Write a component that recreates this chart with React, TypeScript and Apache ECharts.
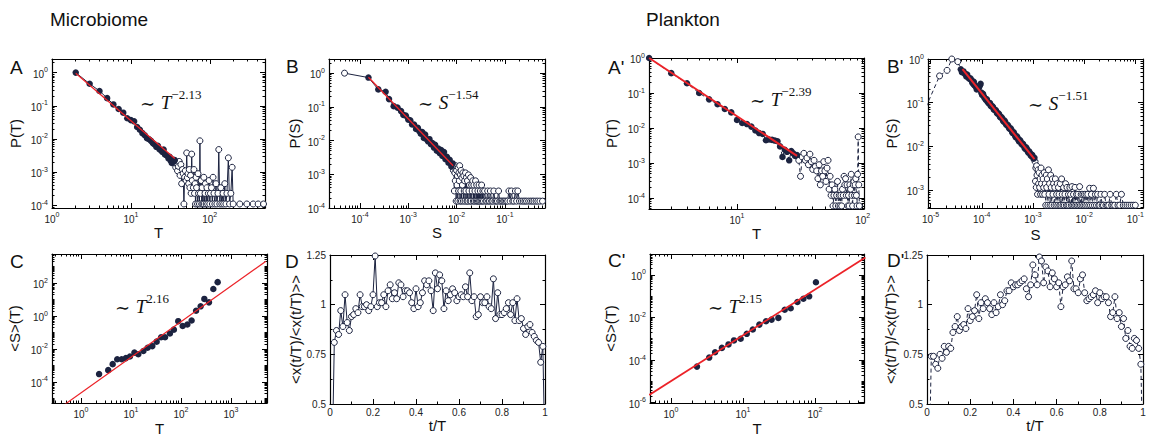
import React, { useEffect, useRef } from 'react';
import * as echarts from 'echarts';

const NAVY = '#1c2340';
const RED = '#ec2228';
const FONT = '"Liberation Sans", Arial, Helvetica, sans-serif';
const SERIF = '"Liberation Serif", "Times New Roman", serif';

// ---------- Panel A (Microbiome, P(T)) ----------
const aFilledT = [2,3,4,5,6,7,8,9,10,11,12,13,14,15,16,17,18,19,20,21,22,23,24,25,26,27,28,29,30,31,32,33,34,35,36];
const aFilledP = [1.0,0.46,0.28,0.17,0.11,0.08,0.062,0.042,0.037,0.034,0.023,0.019,0.015,0.013,0.0105,0.0098,0.0088,0.0075,0.0068,0.0058,0.0062,0.0049,0.0046,0.0041,0.0048,0.0034,0.0033,0.0031,0.0026,0.0029,0.0022,0.0019,0.0024,0.0021,0.0023];
const aOpenT = [37,38,39,40,41,42,43,44,45,46,47,48,49,50,51,52,53,54,55,56,57,58,59,60,62,63,64,65,66,67,68,70,71,72,74,75,76,78,79,80,82,84,85,87,88,90,92,94,96,98,100,102,105,108,110,113,116,120,123,127,130,134,138,142,147,150,155,160,165,172,178,185,192,198,240,295,355,410,480];
const aOpenP = [0.0014,0.0018,0.0011,0.0015,0.0021,0.0008,0.0017,0.00045,0.0012,0.0009,0.00011,0.0007,0.0011,0.00056,0.0038,0.00068,0.0009,0.00045,0.0012,0.00034,0.0008,0.00023,0.0035,0.00056,0.00034,0.0012,0.00023,0.00045,0.00011,0.0007,0.00034,0.00011,0.0009,0.00023,0.00011,0.0088,0.00023,0.00056,0.00011,0.00034,0.00011,0.0007,0.00011,0.00023,0.00045,0.00011,0.00034,0.00011,0.00023,0.00056,0.00011,0.00023,0.00034,0.00011,0.0007,0.00023,0.00011,0.00045,0.00011,0.00023,0.0048,0.00011,0.00034,0.00011,0.00023,0.00011,0.00045,0.00011,0.00023,0.0027,0.00011,0.00023,0.0014,0.00011,0.00011,0.00011,0.00011,0.00011,0.00011];
const aFitT = [2, 36];
const aFitP = [0.95, 0.0026];

// ---------- Panel B (Microbiome, P(S)) ----------
const bHeadS = [4.8e-5];
const bHeadP = [1.0];
const bFilledS = [1.5e-4,2.4e-4,3.4e-4,4.0e-4,5.0e-4,6.0e-4,7.1e-4,7.9e-4,8.9e-4,1.0e-3,1.1e-3,1.2e-3,1.32e-3,1.45e-3,1.58e-3,1.7e-3,1.82e-3,1.95e-3,2.1e-3,2.24e-3,2.4e-3,2.57e-3,2.75e-3,2.95e-3,3.16e-3,3.4e-3,3.6e-3,3.9e-3,4.2e-3,4.5e-3,4.8e-3,5.1e-3,5.5e-3,5.9e-3,6.3e-3,6.8e-3,7.2e-3,7.8e-3,8.3e-3];
const bFilledP = [0.74,0.33,0.28,0.17,0.105,0.095,0.075,0.058,0.055,0.042,0.04,0.03,0.03,0.022,0.024,0.019,0.016,0.018,0.012,0.015,0.011,0.0095,0.011,0.0078,0.0085,0.0062,0.0075,0.005,0.0058,0.0042,0.0052,0.0035,0.0046,0.0028,0.0033,0.0022,0.0027,0.0017,0.0021];
// [S, P] pairs of the open-circle tail
const bTail = [[0.0086,0.0013],[0.0088,0.0016],[0.009,0.00032],[0.0092,0.0011],[0.0094,0.00064],[0.0096,0.0018],[0.0098,0.00016],[0.0100,0.0013],[0.0102,0.00048],[0.0104,0.0009],[0.0106,0.00016],[0.0108,0.0016],[0.011,0.00032],[0.0112,0.0011],[0.0114,0.00064],[0.0116,0.0018],[0.0118,0.00016],[0.012,0.00096],[0.0122,0.00032],[0.0124,0.0013],[0.0126,0.00016],[0.0129,0.0008],[0.0132,0.00048],[0.0135,0.0011],[0.0138,0.00016],[0.0141,0.0009],[0.0144,0.00032],[0.0147,0.00064],[0.015,0.00016],[0.0153,0.0011],[0.0156,0.00032],[0.016,0.0008],[0.0164,0.00016],[0.0168,0.00064],[0.0172,0.00016],[0.0176,0.00096],[0.018,0.00032],[0.0185,0.00048],[0.019,0.00016],[0.0195,0.0008],[0.02,0.00016],[0.0205,0.00048],[0.021,0.00032],[0.0216,0.00064],[0.0222,0.00016],[0.0228,0.00048],[0.0234,0.00016],[0.024,0.00032],[0.0247,0.00064],[0.0254,0.00016],[0.0261,0.00048],[0.0268,0.00016],[0.0276,0.00032],[0.0284,0.00016],[0.0292,0.00048],[0.03,0.00016],[0.031,0.00032],[0.032,0.00016],[0.033,0.00048],[0.034,0.00016],[0.035,0.00032],[0.036,0.00016],[0.038,0.00032],[0.04,0.00016],[0.042,0.00016],[0.044,0.00032],[0.046,0.00016],[0.048,0.00016],[0.05,0.00032],[0.053,0.00016],[0.056,0.00016],[0.059,0.00032],[0.062,0.00016],[0.066,0.00016],[0.07,0.00016],[0.074,0.00032],[0.078,0.00016],[0.083,0.00016],[0.088,0.00016],[0.094,0.00016],[0.1,0.00016],[0.107,0.00016],[0.114,0.00016],[0.121,0.00032],[0.128,0.00016],[0.136,0.00032],[0.145,0.00016],[0.155,0.00016],[0.165,0.00032],[0.175,0.00016],[0.185,0.00032],[0.2,0.00016],[0.22,0.00016],[0.24,0.00016],[0.26,0.00016],[0.28,0.00016],[0.31,0.00016],[0.34,0.00016],[0.37,0.00016],[0.4,0.00016],[0.44,0.00016],[0.48,0.00016],[0.53,0.00016],[0.6,0.00016]];
const bFitS = [1.5e-4, 8.5e-3];
const bFitP = [0.76, 0.0018];

// ---------- Panel A' (Plankton, P(T)) ----------
const apFilledT = [2,3,4,5,6,7,8,9,10,11,12,13,14,15,16,17,18,19,20,21,22,23,24,25,26,27,28,29,30];
const apFilledP = [1.0,0.37,0.19,0.10,0.066,0.048,0.035,0.028,0.017,0.014,0.013,0.011,0.0085,0.0072,0.0068,0.0045,0.0047,0.0046,0.0044,0.0042,0.0030,0.0015,0.0024,0.0021,0.0012,0.0022,0.0019,0.0016,0.0017];
const apOpenT = [31,32,33,34,35,36,37,38,39,40,41,42,43,44,45,46,47,48,49,50,51,52,53,54,55,56,57,58,59,60,61,62,63,64,65,66,67,68,69,70,71,72,73,74,75,76,77,78,79,80,81,82,83,84,85,86,87,88,89,90,91,92,93,94];
const apOpenP = [0.0012,0.00042,0.0015,0.0019,0.0012,0.0014,0.0009,0.0018,0.0011,0.00066,0.0012,0.0008,0.0006,0.00036,0.0009,0.00024,0.0006,0.00042,0.0011,0.0006,0.0003,0.00072,0.0012,0.00018,0.00042,0.00012,0.00024,0.00006,0.00012,0.00018,0.00006,0.00012,0.0003,0.00006,0.00012,0.00006,0.00012,0.00006,0.00018,0.00012,0.00042,0.00024,0.00036,0.00012,0.00024,0.00006,0.00012,0.00006,0.00024,0.00018,0.00048,0.00012,0.00006,0.00024,0.0003,0.00012,0.00024,0.00036,0.00012,0.00006,0.00048,0.0056,0.00024,0.00006];
const apFitT = [2, 30];
const apFitP = [1.0, 0.0016];

// ---------- Panel B' (Plankton, P(S)) ----------
const bpHeadS = [6.3e-6,1.5e-5,2.1e-5,2.6e-5,3.4e-5];
const bpHeadP = [0.04,0.41,0.55,1.0,0.87];
// [S, P] pairs of the filled part
const bpFilled = [[3.9e-5,0.58],[4.1e-5,0.5],[4.4e-5,0.52],[4.6e-5,0.47],[4.8e-5,0.45],[5.0e-5,0.4],[5.2e-5,0.44],[5.5e-5,0.37],[5.8e-5,0.35],[6.0e-5,0.36],[6.3e-5,0.33],[6.5e-5,0.29],[6.8e-5,0.27],[7.0e-5,0.3],[7.2e-5,0.25],[7.5e-5,0.24],[7.8e-5,0.23],[8.0e-5,0.2],[8.3e-5,0.21],[8.6e-5,0.22],[8.9e-5,0.23],[9.2e-5,0.25],[9.5e-5,0.27],[9.8e-5,0.17],[1.02e-4,0.15],[1.06e-4,0.16],[1.1e-4,0.14],[1.13e-4,0.13],[1.17e-4,0.125],[1.21e-4,0.115],[1.26e-4,0.12],[1.3e-4,0.105],[1.35e-4,0.10],[1.4e-4,0.095],[1.45e-4,0.098],[1.5e-4,0.085],[1.55e-4,0.082],[1.6e-4,0.084],[1.66e-4,0.079],[1.72e-4,0.07],[1.78e-4,0.068],[1.84e-4,0.069],[1.9e-4,0.066],[1.97e-4,0.059],[2.04e-4,0.056],[2.11e-4,0.057],[2.19e-4,0.054],[2.26e-4,0.048],[2.34e-4,0.046],[2.42e-4,0.047],[2.51e-4,0.044],[2.6e-4,0.039],[2.69e-4,0.037],[2.78e-4,0.039],[2.88e-4,0.036],[2.98e-4,0.032],[3.09e-4,0.031],[3.2e-4,0.031],[3.31e-4,0.029],[3.43e-4,0.026],[3.55e-4,0.025],[3.67e-4,0.026],[3.8e-4,0.024],[3.93e-4,0.021],[4.07e-4,0.020],[4.22e-4,0.021],[4.37e-4,0.019],[4.52e-4,0.017],[4.68e-4,0.016],[4.85e-4,0.017],[5.01e-4,0.016],[5.19e-4,0.014],[5.37e-4,0.013],[5.56e-4,0.014],[5.75e-4,0.013],[5.96e-4,0.0115],[6.17e-4,0.011],[6.39e-4,0.0115],[6.61e-4,0.0105],[6.84e-4,0.0093],[7.08e-4,0.0088],[7.33e-4,0.0095],[7.59e-4,0.0089],[7.85e-4,0.0078],[8.13e-4,0.0072],[8.42e-4,0.0077],[8.71e-4,0.0071],[9.02e-4,0.0063],[9.33e-4,0.006],[9.66e-4,0.0064],[1.0e-3,0.0058],[1.03e-3,0.0052],[1.07e-3,0.0055]];
// [S, P] pairs of the open-circle tail
const bpTail = [[1.10e-3,0.0045],[1.12e-3,0.0016],[1.14e-3,0.0032],[1.16e-3,0.00115],[1.18e-3,0.0036],[1.20e-3,0.0022],[1.23e-3,0.0008],[1.26e-3,0.0029],[1.29e-3,0.0014],[1.32e-3,0.0025],[1.35e-3,0.00115],[1.38e-3,0.0018],[1.41e-3,0.0008],[1.44e-3,0.0032],[1.47e-3,0.0014],[1.50e-3,0.0022],[1.54e-3,0.0008],[1.58e-3,0.0018],[1.62e-3,0.00115],[1.66e-3,0.0025],[1.70e-3,0.0008],[1.74e-3,0.0014],[1.78e-3,0.00045],[1.82e-3,0.0022],[1.86e-3,0.00115],[1.91e-3,0.0018],[1.96e-3,0.00045],[2.01e-3,0.0029],[2.06e-3,0.0008],[2.11e-3,0.0014],[2.16e-3,0.00045],[2.22e-3,0.0022],[2.28e-3,0.00115],[2.34e-3,0.00045],[2.40e-3,0.0018],[2.46e-3,0.0008],[2.53e-3,0.0014],[2.60e-3,0.00045],[2.67e-3,0.00115],[2.74e-3,0.0018],[2.82e-3,0.00045],[2.90e-3,0.0008],[2.98e-3,0.0014],[3.06e-3,0.00045],[3.15e-3,0.00115],[3.24e-3,0.0008],[3.33e-3,0.00045],[3.43e-3,0.0014],[3.53e-3,0.00045],[3.63e-3,0.0018],[3.74e-3,0.0008],[3.85e-3,0.00045],[3.97e-3,0.00115],[4.09e-3,0.00045],[4.22e-3,0.0008],[4.35e-3,0.0014],[4.49e-3,0.00045],[4.63e-3,0.00115],[4.78e-3,0.00045],[4.93e-3,0.0008],[5.09e-3,0.00045],[5.26e-3,0.00115],[5.43e-3,0.0008],[5.61e-3,0.00045],[5.80e-3,0.0012],[6.00e-3,0.00045],[6.20e-3,0.0008],[6.41e-3,0.00045],[6.63e-3,0.00115],[6.86e-3,0.00045],[7.10e-3,0.0008],[7.35e-3,0.00045],[7.61e-3,0.0008],[7.88e-3,0.00045],[8.16e-3,0.0012],[8.45e-3,0.00045],[8.76e-3,0.0008],[9.08e-3,0.00045],[9.42e-3,0.0008],[9.77e-3,0.00045],[1.01e-2,0.0008],[1.05e-2,0.00045],[1.09e-2,0.0008],[1.13e-2,0.00045],[1.18e-2,0.0008],[1.23e-2,0.00045],[1.28e-2,0.0011],[1.33e-2,0.00045],[1.39e-2,0.0008],[1.45e-2,0.00045],[1.52e-2,0.0011],[1.59e-2,0.00045],[1.66e-2,0.0008],[1.74e-2,0.00045],[1.83e-2,0.0008],[1.92e-2,0.00045],[2.02e-2,0.00045],[2.13e-2,0.0008],[2.25e-2,0.00045],[2.38e-2,0.00045],[2.52e-2,0.0008],[2.67e-2,0.00045],[2.84e-2,0.00045],[3.02e-2,0.00045],[3.22e-2,0.0008],[3.44e-2,0.00045],[3.68e-2,0.00045],[3.95e-2,0.00045],[4.25e-2,0.0008],[4.58e-2,0.00045],[4.95e-2,0.00045],[5.36e-2,0.0008],[5.82e-2,0.00045],[6.33e-2,0.00045],[6.90e-2,0.00045],[7.55e-2,0.00045],[8.28e-2,0.00045],[9.10e-2,0.00045],[0.1,0.00045]];
const bpFitS = [4.2e-5, 1.07e-3];
const bpFitP = [0.59, 0.0051];

// ---------- Panel C (Microbiome, <S>(T)) ----------
const cT = [2.3,3.5,4.3,5.3,6.5,7.9,9.5,11.7,14,17.7,21.5,26.7,32.6,40,48,60,72,88,108,134,163,200,247,293,363,443,541];
const cS = [3e-4,5.2e-4,1.2e-3,2.4e-3,2.4e-3,2.8e-3,3.5e-3,6e-3,4.8e-3,7.6e-3,0.012,0.015,0.028,0.052,0.052,0.087,0.15,0.49,0.25,0.31,0.54,2.1,3.9,11,6.8,44,115];
const cFitT = [0.3, 5000];
const cFitS = [1.6e-6, 2140];

// ---------- Panel C' (Plankton, <S>(T)) ----------
const cpT = [2.3,3.4,4.1,5.1,6.3,7.5,9.3,11.3,13.7,16.9,20.9,25,31,38,46,57,69,83,103];
const cpS = [4.9e-5,1.3e-4,2.3e-4,3.7e-4,5.4e-4,8.3e-4,1e-3,1.7e-3,2.7e-3,4.6e-3,6.6e-3,7.9e-3,9.5e-3,0.023,0.027,0.053,0.075,0.098,0.45];
const cpFitT = [0.5, 500];
const cpFitS = [2.3e-6, 6.5];

// ---------- Panels D and D' (average shape) ----------
const tGrid = [0.01,0.02,0.03,0.04,0.05,0.06,0.07,0.08,0.09,0.10,0.11,0.12,0.13,0.14,0.15,0.16,0.17,0.18,0.19,0.20,0.21,0.22,0.23,0.24,0.25,0.26,0.27,0.28,0.29,0.30,0.31,0.32,0.33,0.34,0.35,0.36,0.37,0.38,0.39,0.40,0.41,0.42,0.43,0.44,0.45,0.46,0.47,0.48,0.49,0.50,0.51,0.52,0.53,0.54,0.55,0.56,0.57,0.58,0.59,0.60,0.61,0.62,0.63,0.64,0.65,0.66,0.67,0.68,0.69,0.70,0.71,0.72,0.73,0.74,0.75,0.76,0.77,0.78,0.79,0.80,0.81,0.82,0.83,0.84,0.85,0.86,0.87,0.88,0.89,0.90,0.91,0.92,0.93,0.94,0.95,0.96,0.97,0.98,0.99,1.0];
const dShape = [0.2,
  0.81,0.87,0.85,0.97,0.89,1.05,0.91,0.87,0.94,0.95,
  0.98,0.96,1.05,0.99,0.99,1.0,0.97,0.99,1.05,1.245,
  0.99,1.01,1.01,1.05,0.99,1.07,1.10,1.03,1.06,1.03,
  1.11,1.10,1.04,1.07,1.07,1.06,1.01,0.98,1.08,0.99,
  1.01,1.06,1.12,1.10,1.12,1.07,0.97,1.16,1.08,1.15,
  1.12,0.98,1.07,1.02,1.05,1.08,1.06,1.02,1.04,1.05,
  1.04,1.09,1.04,1.16,1.02,1.04,0.94,0.95,1.04,1.01,
  1.01,1.04,0.99,0.98,1.13,0.93,1.06,0.95,0.95,0.96,
  0.98,1.01,0.95,1.01,0.92,1.03,0.92,0.93,0.88,0.85,
  0.89,0.90,0.86,0.84,0.82,0.81,0.71,0.79,
  0.2];
const dpShape = [0.2,
  0.74,0.74,0.70,0.68,0.75,0.73,0.79,0.76,0.79,0.78,
  0.86,0.89,0.94,0.87,0.89,0.90,0.88,0.98,0.92,0.94,
  0.97,1.05,0.93,1.01,0.98,1.03,1.01,0.98,0.95,1.01,
  0.96,0.99,1.05,1.0,1.02,1.07,1.07,1.11,1.09,1.10,
  1.10,1.11,1.12,1.13,1.08,1.04,1.10,1.20,1.15,1.10,
  1.24,1.22,1.11,1.19,1.17,1.09,1.16,1.13,1.09,1.11,
  0.99,1.09,1.10,1.14,1.12,1.22,1.08,1.08,1.06,1.13,
  1.15,1.06,1.02,1.03,1.04,1.05,1.07,1.01,1.06,1.03,
  1.04,1.04,1.01,0.94,0.96,1.04,0.93,0.96,0.89,0.93,
  0.83,0.87,0.79,0.78,0.83,0.82,0.78,0.70,
  0.2];

const shapeXTicks = [0, 0.2, 0.4, 0.6, 0.8, 1];
const shapeXMinor = [0.1, 0.3, 0.5, 0.7, 0.9];
const shapeYTicks = [0.5, 0.75, 1, 1.25];
const shapeYMinor = [0.625, 0.875, 1.125];

// ---------- helpers ----------
const L = (v: number) => Math.log10(v);
const pairsLog = (xs: number[], ys: number[]) => xs.map((x, i) => [L(x), L(ys[i])]);
const pairsLin = (xs: number[], ys: number[]) => xs.map((x, i) => [x, ys[i]]);
const tableLog = (rows: number[][]) => rows.map((r) => [L(r[0]), L(r[1])]);

type AxisSpec = { min: number; max: number; log: boolean; major: number[]; minor: number[] };

function logAxis(min: number, max: number, step = 1): AxisSpec {
  const major: number[] = [];
  const minor: number[] = [];
  for (let n = Math.floor(min) - 1; n <= Math.ceil(max); n++) {
    if (n >= min - 1e-9 && n <= max + 1e-9) {
      if (((n % step) + step) % step === 0) major.push(n);
      else minor.push(n);
    }
    for (let k = 2; k <= 9; k++) {
      const v = n + Math.log10(k);
      if (v > min && v < max) minor.push(v);
    }
  }
  return { min, max, log: true, major, minor };
}

function linAxis(min: number, max: number, major: number[], minor: number[]): AxisSpec {
  return { min, max, log: false, major, minor };
}

const labelRich = {
  b: { fontSize: 10, fontFamily: FONT, color: '#222', lineHeight: 13, verticalAlign: 'bottom' },
  e: { fontSize: 7, fontFamily: FONT, color: '#222', lineHeight: 8, verticalAlign: 'top' },
};

function axesFor(gi: number, spec: AxisSpec, dim: 'x' | 'y', name: string, gap: number) {
  const isX = dim === 'x';
  const posMain = isX ? 'bottom' : 'left';
  const posOpp = isX ? 'top' : 'right';
  const base = { type: 'value', gridIndex: gi, min: spec.min, max: spec.max, splitLine: { show: false } };
  const fmt = spec.log
    ? (v: number) => `{b|10}{e|${Math.round(v)}}`
    : (v: number) => String(Number(v.toFixed(2)));
  const line = { show: true, onZero: false, lineStyle: { color: '#000', width: 1.2 } };
  const noLine = { show: false, onZero: false };
  const tick = (vals: number[], len: number) => ({ show: true, inside: true, length: len, customValues: vals, lineStyle: { color: '#000', width: 1 } });
  return [
    {
      ...base, position: posMain, axisLine: line, axisTick: tick(spec.major, 5),
      axisLabel: { show: true, customValues: spec.major, formatter: fmt, margin: isX ? 3 : 4, fontSize: 10, color: '#222', fontFamily: FONT, rich: labelRich },
      name, nameLocation: 'middle', nameGap: gap,
      nameTextStyle: { fontSize: 15, fontFamily: FONT, color: '#111' },
    },
    { ...base, position: posMain, axisLine: noLine, axisTick: tick(spec.minor, 2.5), axisLabel: { show: false } },
    { ...base, position: posOpp, axisLine: line, axisTick: tick(spec.major, 5), axisLabel: { show: false } },
    { ...base, position: posOpp, axisLine: noLine, axisTick: tick(spec.minor, 2.5), axisLabel: { show: false } },
  ];
}

type Panel = {
  grid: number[];
  x: AxisSpec; y: AxisSpec;
  xName: string; yName: string; xGap: number; yGap: number;
  dashed?: boolean; clip: boolean; fitWidth?: number;
  connect?: number[][]; open?: number[][]; filled?: number[][]; fit?: number[][];
};

const panels: Panel[] = [
  {
    grid: [52, 59, 213, 149], x: logAxis(0, 2.7), y: logAxis(-4.08, 0.41),
    xName: 'T', yName: 'P(T)', xGap: 16, yGap: 29, clip: true, fitWidth: 1.3,
    connect: pairsLog([...aFilledT, ...aOpenT], [...aFilledP, ...aOpenP]),
    open: pairsLog(aOpenT, aOpenP), filled: pairsLog(aFilledT, aFilledP), fit: pairsLog(aFitT, aFitP),
  },
  {
    grid: [329, 59, 216, 149], x: logAxis(-4.64, -0.17), y: logAxis(-4.0, 0.42),
    xName: 'S', yName: 'P(S)', xGap: 17, yGap: 27, clip: true, fitWidth: 1.3,
    connect: [...pairsLog(bHeadS, bHeadP), ...pairsLog(bFilledS, bFilledP), ...tableLog(bTail)],
    open: [...pairsLog(bHeadS, bHeadP), ...tableLog(bTail)], filled: pairsLog(bFilledS, bFilledP), fit: pairsLog(bFitS, bFitP),
  },
  {
    grid: [649, 58, 215, 151], x: logAxis(0.30, 2.01), y: logAxis(-4.31, 0.0),
    xName: 'T', yName: 'P(T)', xGap: 16, yGap: 30, dashed: true, clip: false, fitWidth: 2,
    connect: pairsLog([...apFilledT, ...apOpenT], [...apFilledP, ...apOpenP]),
    open: pairsLog(apOpenT, apOpenP), filled: pairsLog(apFilledT, apFilledP), fit: pairsLog(apFitT, apFitP),
  },
  {
    grid: [928, 59, 215, 149], x: logAxis(-5.05, -0.85), y: logAxis(-3.41, 0.0),
    xName: 'S', yName: 'P(S)', xGap: 19, yGap: 29, dashed: true, clip: true, fitWidth: 2,
    connect: [...pairsLog(bpHeadS, bpHeadP), ...tableLog(bpFilled), ...tableLog(bpTail)],
    open: [...pairsLog(bpHeadS, bpHeadP), ...tableLog(bpTail)], filled: tableLog(bpFilled), fit: pairsLog(bpFitS, bpFitP),
  },
  {
    grid: [52, 254, 215, 150], x: logAxis(-0.58, 3.72), y: logAxis(-5.28, 3.77, 2),
    xName: 'T', yName: '<S>(T)', xGap: 18, yGap: 30, clip: true, fitWidth: 1.2,
    filled: pairsLog(cT, cS), fit: pairsLog(cFitT, cFitS),
  },
  {
    grid: [330, 255, 215, 149], x: linAxis(0, 1, shapeXTicks, shapeXMinor), y: linAxis(0.5, 1.25, shapeYTicks, shapeYMinor),
    xName: 't/T', yName: '<x(t/T)/<x(t/T)>>', xGap: 12, yGap: 27, clip: true,
    connect: pairsLin(tGrid, dShape), open: pairsLin(tGrid, dShape),
  },
  {
    grid: [650, 254, 214, 150], x: logAxis(-0.29, 2.68), y: logAxis(-6.02, 0.98, 2),
    xName: 'T', yName: '<S>(T)', xGap: 18, yGap: 32, clip: true, fitWidth: 1.8,
    filled: pairsLog(cpT, cpS), fit: pairsLog(cpFitT, cpFitS),
  },
  {
    grid: [927, 255, 216, 149], x: linAxis(0, 1, shapeXTicks, shapeXMinor), y: linAxis(0.5, 1.25, shapeYTicks, shapeYMinor),
    xName: 't/T', yName: '<x(t/T)/<x(t/T)>>', xGap: 14, yGap: 29, dashed: true, clip: true,
    connect: pairsLin(tGrid, dpShape), open: pairsLin(tGrid, dpShape),
  },
];

function annotation(x: number, y: number, base: string, exp: string) {
  return {
    type: 'text', x, y, silent: true,
    style: {
      text: `{s|∼ }{t|${base}}{e|${exp}}`,
      align: 'left', verticalAlign: 'middle',
      rich: {
        s: { fontSize: 18, fontFamily: '"DejaVu Serif", serif', fill: '#111', lineHeight: 24, verticalAlign: 'bottom' },
        t: { fontSize: 19, fontFamily: SERIF, fontStyle: 'italic', fill: '#111', lineHeight: 24, verticalAlign: 'bottom' },
        e: { fontSize: 13, fontFamily: SERIF, fill: '#111', lineHeight: 14, verticalAlign: 'top' },
      },
    },
  };
}

function plainText(x: number, y: number, text: string, size: number) {
  return {
    type: 'text', x, y, silent: true,
    style: { text, fontSize: size, fontFamily: FONT, fill: '#111', align: 'left', verticalAlign: 'middle' },
  };
}

function buildOption() {
  const grid: any[] = [];
  const xAxis: any[] = [];
  const yAxis: any[] = [];
  const series: any[] = [];
  panels.forEach((p, gi) => {
    grid.push({ left: p.grid[0], top: p.grid[1], width: p.grid[2], height: p.grid[3], containLabel: false });
    xAxis.push(...axesFor(gi, p.x, 'x', p.xName, p.xGap));
    yAxis.push(...axesFor(gi, p.y, 'y', p.yName, p.yGap));
    const ax = { xAxisIndex: gi * 4, yAxisIndex: gi * 4 };
    if (p.connect) {
      series.push({
        type: 'line', ...ax, data: p.connect, symbol: 'none', showSymbol: false, clip: true, silent: true, z: 2,
        lineStyle: { color: NAVY, width: 1, type: p.dashed ? [4, 3] : 'solid' },
      });
    }
    if (p.open) {
      series.push({
        type: 'scatter', ...ax, data: p.open, symbol: 'circle', symbolSize: 6, clip: p.clip, silent: true, z: 3,
        itemStyle: { color: '#ffffff', borderColor: NAVY, borderWidth: 1, opacity: 1 },
      });
    }
    if (p.filled) {
      series.push({
        type: 'scatter', ...ax, data: p.filled, symbol: 'circle', symbolSize: 6.5, clip: p.clip, silent: true, z: 4,
        itemStyle: { color: NAVY, opacity: 1 },
      });
    }
    if (p.fit) {
      series.push({
        type: 'line', ...ax, data: p.fit, symbol: 'none', showSymbol: false, clip: true, silent: true, z: 5,
        lineStyle: { color: RED, width: p.fitWidth ?? 1.5 },
      });
    }
  });

  const graphic = [
    plainText(50, 19.5, 'Microbiome', 19),
    plainText(646, 19.5, 'Plankton', 19),
    plainText(10, 67, 'A', 19),
    plainText(286, 66, 'B', 19),
    plainText(608, 67.5, "A'", 19),
    plainText(887, 66.5, "B'", 19),
    plainText(10, 261.5, 'C', 19),
    plainText(285, 261, 'D', 19),
    plainText(608, 260.5, "C'", 19),
    plainText(887, 260.5, "D'", 19),
    annotation(140, 100, 'T', '−2.13'),
    annotation(418, 100, 'S', '−1.54'),
    annotation(750, 97, 'T', '−2.39'),
    annotation(1028, 101, 'S', '−1.51'),
    annotation(115, 304, 'T', '2.16'),
    annotation(708, 304, 'T', '2.15'),
  ];

  return {
    animation: false,
    backgroundColor: '#ffffff',
    textStyle: { fontFamily: FONT },
    grid, xAxis, yAxis, series, graphic,
  };
}

export default function App() {
  const ref = useRef<HTMLDivElement>(null);
  useEffect(() => {
    if (!ref.current) return;
    const chart = echarts.init(ref.current, null, { renderer: 'svg' });
    chart.setOption(buildOption() as any);
    return () => chart.dispose();
  }, []);
  return (
    <div
      ref={ref}
      style={{ position: 'absolute', left: 0, top: 0, width: 1149, height: 437, background: '#fff' }}
    />
  );
}
